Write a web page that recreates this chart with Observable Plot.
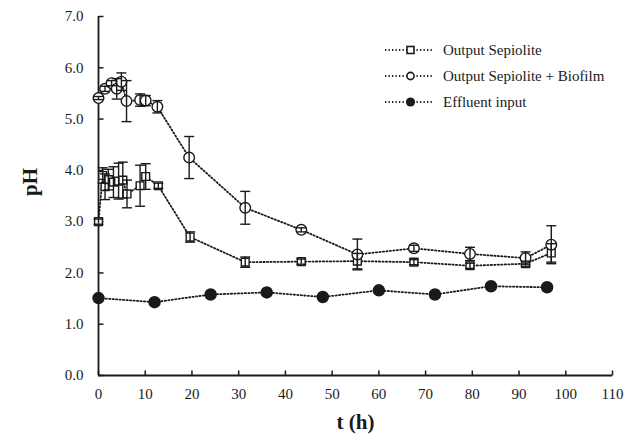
<!DOCTYPE html>
<html>
<head>
<meta charset="utf-8">
<script src="https://cdn.jsdelivr.net/npm/d3@7"></script>
<script src="https://cdn.jsdelivr.net/npm/@observablehq/plot@0.6"></script>
<style>
  html, body { margin: 0; padding: 0; background: #fff; }
  #wrap { position: relative; width: 627px; height: 441px; }
  #legend { position: absolute; left: 0; top: 0; }
</style>
</head>
<body>
<div id="wrap"></div>
<script>
// ---- data ----
const seriesNames = ["Output Sepiolite", "Output Sepiolite + Biofilm", "Effluent input"];

const tSep   = [0, 0.9, 1.4, 2.1, 3.2, 4.3, 5.2, 6.1, 8.9, 10.1, 12.8, 19.6, 31.4, 43.4, 55.4, 67.5, 79.5, 91.4, 96.9];
const phSep  = [3.00, 3.90, 3.68, 3.82, 3.77, 3.79, 3.81, 3.54, 3.70, 3.88, 3.70, 2.70, 2.21, 2.22, 2.23, 2.21, 2.14, 2.18, 2.39];
const errSep = [0.05, 0.15, 0.25, 0.20, 0.30, 0.35, 0.35, 0.27, 0.40, 0.25, 0.05, 0.10, 0.10, 0.05, 0.15, 0.05, 0.05, 0.05, 0.18];

const tBio   = [0, 1.4, 2.8, 3.9, 4.9, 6.0, 8.9, 10.1, 12.6, 19.4, 31.4, 43.4, 55.4, 67.5, 79.5, 91.4, 96.9];
const phBio  = [5.41, 5.59, 5.70, 5.59, 5.73, 5.35, 5.37, 5.36, 5.24, 4.25, 3.27, 2.84, 2.36, 2.48, 2.37, 2.29, 2.55];
const errBio = [0.03, 0.05, 0.05, 0.20, 0.17, 0.40, 0.12, 0.10, 0.12, 0.41, 0.32, 0.04, 0.30, 0.06, 0.13, 0.12, 0.37];

const tEff   = [0, 12, 24, 36, 48, 60, 72, 84, 96];
const phEff  = [1.51, 1.43, 1.58, 1.62, 1.53, 1.66, 1.58, 1.74, 1.72];

const xTicks = [0, 10, 20, 30, 40, 50, 60, 70, 80, 90, 100, 110];
const yTicks = [0, 1, 2, 3, 4, 5, 6, 7];
const xTitle = "t (h)";
const yTitle = "pH";

// ---- build rows ----
const sep = tSep.map((t, i) => ({t, ph: phSep[i], err: errSep[i]}));
const bio = tBio.map((t, i) => ({t, ph: phBio[i], err: errBio[i]}));
const eff = tEff.map((t, i) => ({t, ph: phEff[i]}));

const ink = "#1a1a1a";
const font = "'Liberation Serif', 'Times New Roman', serif";

// custom symbols
const capSym = {draw(ctx, size) { const r = Math.sqrt(size / Math.PI); ctx.moveTo(-r, 0); ctx.lineTo(r, 0); }};
const yTickSym = {draw(ctx) { ctx.moveTo(0, 0); ctx.lineTo(5, 0); }};
const xTickSym = {draw(ctx) { ctx.moveTo(0, 0); ctx.lineTo(0, -5); }};

const dotted = {stroke: ink, strokeWidth: 1.8, strokeDasharray: "1.3,2.2"};

function errMarks(data) {
  return [
    Plot.ruleX(data, {x: "t", y1: d => d.ph - d.err, y2: d => d.ph + d.err, stroke: ink, strokeWidth: 1.4}),
    Plot.dot(data, {x: "t", y: d => d.ph + d.err, symbol: capSym, r: 5, stroke: ink, strokeWidth: 1.4}),
    Plot.dot(data, {x: "t", y: d => d.ph - d.err, symbol: capSym, r: 5, stroke: ink, strokeWidth: 1.4})
  ];
}

const chart = Plot.plot({
  width: 627,
  height: 441,
  marginLeft: 98,
  marginRight: 15,
  marginTop: 16,
  marginBottom: 66,
  style: {fontFamily: font, fontSize: "15px", color: ink, background: "#fff"},
  x: {domain: [0, 110]},
  y: {domain: [0, 7]},
  marks: [
    Plot.axisX(xTicks, {tickSize: 0, tickPadding: 13, fontSize: 15, label: null, tickFormat: d => String(d)}),
    Plot.axisY(yTicks, {tickSize: 0, tickPadding: 15, fontSize: 15, label: null, tickFormat: d => d.toFixed(1)}),
    Plot.dot(xTicks, {x: d => d, y: () => 0, symbol: xTickSym, r: 5, stroke: ink, strokeWidth: 1.5}),
    Plot.dot(yTicks, {x: () => 0, y: d => d, symbol: yTickSym, r: 5, stroke: ink, strokeWidth: 1.5}),
    Plot.ruleX([0], {stroke: ink, strokeWidth: 1.8}),
    Plot.ruleY([0], {stroke: ink, strokeWidth: 1.8}),
    Plot.line(eff, {x: "t", y: "ph", ...dotted}),
    Plot.line(sep, {x: "t", y: "ph", ...dotted}),
    Plot.line(bio, {x: "t", y: "ph", ...dotted}),
    Plot.dot(eff, {x: "t", y: "ph", r: 5.5, fill: ink, stroke: ink}),
    Plot.dot(sep, {x: "t", y: "ph", symbol: "square", r: 4.4, fill: "white", stroke: ink, strokeWidth: 1.4}),
    Plot.dot(bio, {x: "t", y: "ph", symbol: "circle", r: 5.3, fill: "white", stroke: ink, strokeWidth: 1.4}),
    ...errMarks(sep),
    ...errMarks(bio),
    Plot.text([yTitle], {text: d => d, frameAnchor: "left", dx: -68, rotate: -90, fontSize: 21, fontWeight: "bold", fill: ink}),
    Plot.text([xTitle], {text: d => d, frameAnchor: "bottom", dy: 53, fontSize: 21, fontWeight: "bold", fill: ink})
  ]
});

const wrap = document.getElementById("wrap");
wrap.appendChild(chart);

// ---- legend (overlay) ----
const lg = d3.create("svg").attr("id", "legend").attr("width", 627).attr("height", 441)
  .style("font-family", font).style("font-size", "15px");
const rows = [
  {name: seriesNames[0], kind: "square", y: 50},
  {name: seriesNames[1], kind: "circle", y: 76},
  {name: seriesNames[2], kind: "dot", y: 102}
];
rows.forEach(r => {
  const g = lg.append("g");
  g.append("line").attr("x1", 385).attr("x2", 432).attr("y1", r.y).attr("y2", r.y)
    .attr("stroke", ink).attr("stroke-width", 1.8).attr("stroke-dasharray", "1.3,2.2");
  if (r.kind === "square") {
    g.append("rect").attr("x", 407).attr("y", r.y - 3.5).attr("width", 7).attr("height", 7)
      .attr("fill", "white").attr("stroke", ink).attr("stroke-width", 1.6);
  } else if (r.kind === "circle") {
    g.append("circle").attr("cx", 410.5).attr("cy", r.y).attr("r", 3.6)
      .attr("fill", "white").attr("stroke", ink).attr("stroke-width", 1.6);
  } else {
    g.append("circle").attr("cx", 410.5).attr("cy", r.y).attr("r", 4.6).attr("fill", ink);
  }
  g.append("text").attr("x", 443).attr("y", r.y).attr("dy", "0.35em").attr("fill", ink).text(r.name);
});
wrap.appendChild(lg.node());
</script>
</body>
</html>
